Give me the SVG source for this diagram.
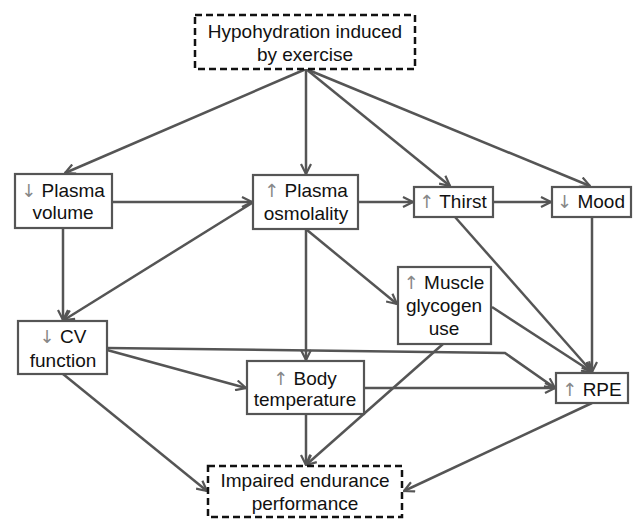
<svg xmlns="http://www.w3.org/2000/svg" width="636" height="519" viewBox="0 0 636 519">
<defs>
<marker id="ah" viewBox="0 0 12 12" refX="11" refY="6" markerWidth="12" markerHeight="12" markerUnits="userSpaceOnUse" orient="auto">
<path d="M1,1 L11,6 L1,11" fill="none" stroke="#555" stroke-width="2.2" stroke-linejoin="miter"/>
</marker>
<style>
.box{fill:#fff;stroke:#555;stroke-width:2.2}
.dbox{fill:#fff;stroke:#111;stroke-width:2.5;stroke-dasharray:7 4}
text{font-family:"Liberation Sans",Arial,sans-serif;font-size:19px;fill:#111;text-anchor:middle}
.ar{fill:#888;font-family:"DejaVu Sans","Liberation Sans",sans-serif;font-size:18px}
.c line,.c polyline{stroke:#555;stroke-width:2.5;fill:none;marker-end:url(#ah)}
</style>
</defs>
<rect width="636" height="519" fill="#fff"/>
<g class="c" id="connectors">
<line x1="306" y1="69" x2="65" y2="173"/>
<line x1="306" y1="69" x2="306" y2="174"/>
<line x1="306" y1="69" x2="450" y2="186"/>
<line x1="306" y1="69" x2="590" y2="186"/>
<line x1="112" y1="202" x2="252" y2="202"/>
<line x1="252" y1="203" x2="64" y2="320"/>
<line x1="63" y1="228" x2="63" y2="320"/>
<line x1="358" y1="202" x2="413" y2="202"/>
<line x1="493" y1="202" x2="551" y2="202"/>
<line x1="306" y1="229" x2="306" y2="360"/>
<line x1="307" y1="230" x2="397" y2="304"/>
<line x1="455" y1="217" x2="592" y2="372"/>
<line x1="592" y1="217" x2="592" y2="372"/>
<line x1="492" y1="307" x2="592" y2="372"/>
<polyline points="107,348 505,353 555,388"/>
<line x1="107" y1="350" x2="246" y2="388"/>
<line x1="364" y1="388" x2="555" y2="388"/>
<line x1="63" y1="374" x2="207" y2="491"/>
<line x1="306" y1="414" x2="306" y2="465"/>
<line x1="443" y1="344" x2="306" y2="465"/>
<line x1="592" y1="403" x2="404" y2="491"/>
</g>
<g id="hypohydration">
<rect class="dbox" x="195" y="15" width="220" height="54"/>
<text x="305" y="38">Hypohydration induced</text>
<text x="305" y="61">by exercise</text>
</g>
<g id="plasma-volume">
<rect class="box" x="15" y="174" width="97" height="54"/>
<text x="63" y="197"><tspan class="ar">↓</tspan> Plasma</text>
<text x="63" y="219">volume</text>
</g>
<g id="plasma-osmolality">
<rect class="box" x="253" y="175" width="105" height="54"/>
<text x="306" y="197"><tspan class="ar">↑</tspan> Plasma</text>
<text x="306" y="220">osmolality</text>
</g>
<g id="thirst">
<rect class="box" x="414" y="187" width="79" height="30"/>
<text x="453" y="208"><tspan class="ar">↑</tspan> Thirst</text>
</g>
<g id="mood">
<rect class="box" x="552" y="187" width="79" height="30"/>
<text x="591" y="208"><tspan class="ar">↓</tspan> Mood</text>
</g>
<g id="muscle-glycogen">
<rect class="box" x="398" y="267" width="93" height="77"/>
<text x="444" y="289"><tspan class="ar">↑</tspan> Muscle</text>
<text x="444" y="312">glycogen</text>
<text x="444" y="335">use</text>
</g>
<g id="cv-function">
<rect class="box" x="18" y="321" width="89" height="53"/>
<text x="63" y="343"><tspan class="ar">↓</tspan> CV</text>
<text x="63" y="367">function</text>
</g>
<g id="body-temperature">
<rect class="box" x="247" y="361" width="117" height="53"/>
<text x="305" y="385"><tspan class="ar">↑</tspan> Body</text>
<text x="305" y="406">temperature</text>
</g>
<g id="rpe">
<rect class="box" x="556" y="373" width="72" height="30"/>
<text x="592" y="396"><tspan class="ar">↑</tspan> RPE</text>
</g>
<g id="impaired-performance">
<rect class="dbox" x="208" y="466" width="194" height="51"/>
<text x="305" y="487">Impaired endurance</text>
<text x="305" y="510">performance</text>
</g>
</svg>
